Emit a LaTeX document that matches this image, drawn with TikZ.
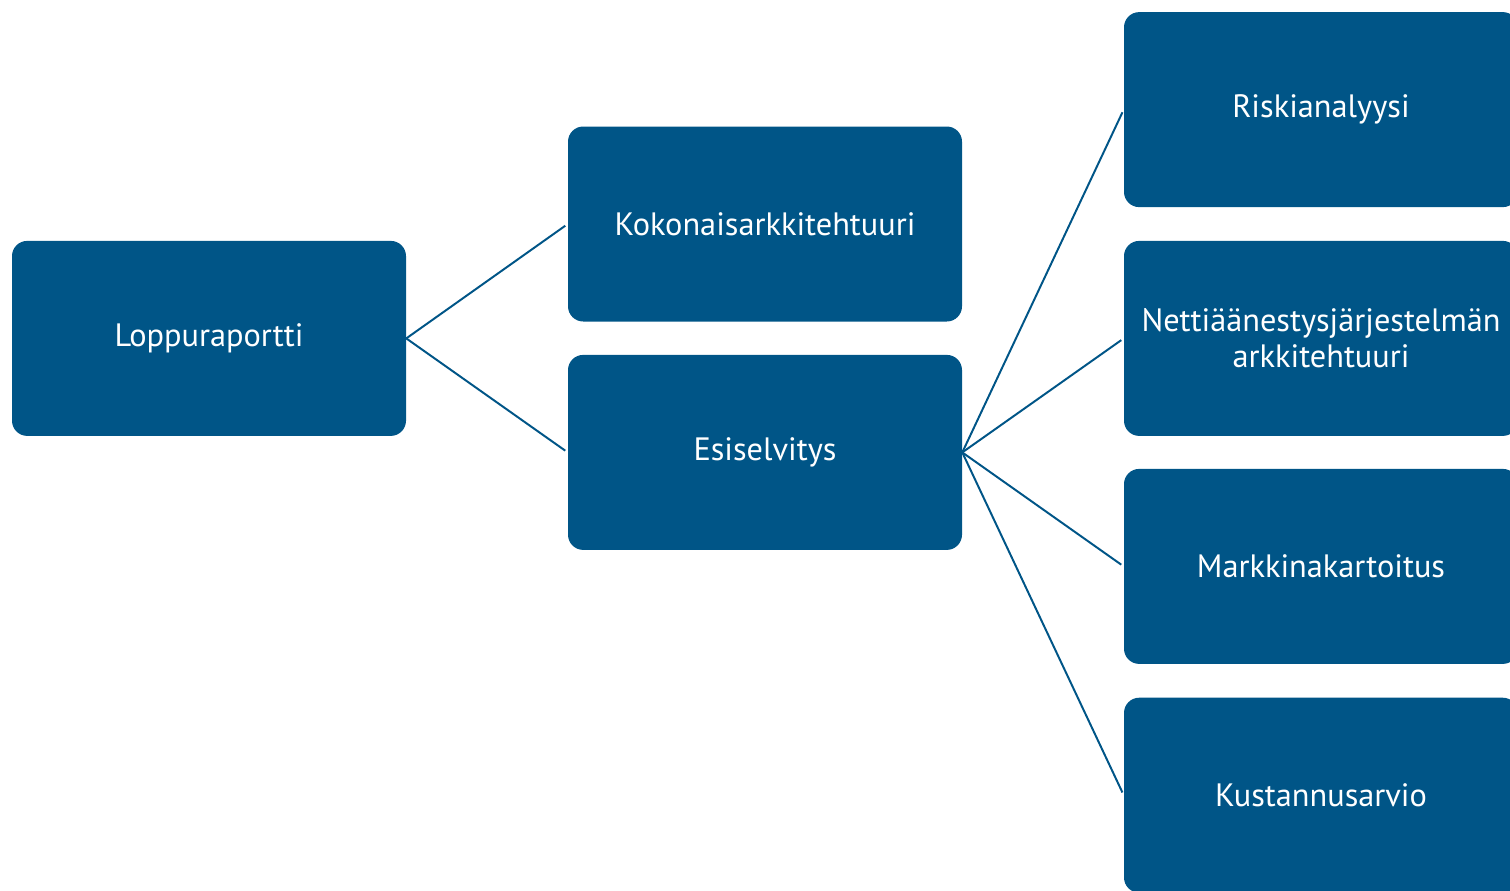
\documentclass[tikz,border=0pt]{standalone}
\usepackage{fontspec}
\setmainfont{PT Sans}
\definecolor{boxblue}{HTML}{005587}

\begin{document}
\begin{tikzpicture}[
  box/.style={rectangle, rounded corners=0.38cm, fill=boxblue, draw=none,
    minimum width=9.85cm, minimum height=4.875cm, text=white,
    font=\fontsize{23}{26}\selectfont, align=center},
  link/.style={boxblue, line width=1.4pt, shorten >=0.075cm}]
  \useasboundingbox (0,0) rectangle (37.75,-22.25);
  \clip (0,0) rectangle (37.75,-22.25);
  \node[box] (L) at (5.225,-8.46) {Loppuraportti};
  \node[box] (K) at (19.125,-5.6) {Kokonaisarkkitehtuuri};
  \node[box] (E) at (19.125,-11.31) {Esiselvitys};
  \node[box] (R) at (33.025,-2.74) {Riskianalyysi};
  \node[box] (N) at (33.025,-8.46) {Nettiäänestysjärjestelmän\\arkkitehtuuri};
  \node[box] (M) at (33.025,-14.16) {Markkinakartoitus};
  \node[box] (C) at (33.025,-19.88) {Kustannusarvio};
  \draw[link] (L.east) -- (K.west);
  \draw[link] (L.east) -- (E.west);
  \draw[link] (E.east) -- (R.west);
  \draw[link] (E.east) -- (N.west);
  \draw[link] (E.east) -- (M.west);
  \draw[link] (E.east) -- (C.west);
\end{tikzpicture}
\end{document}
